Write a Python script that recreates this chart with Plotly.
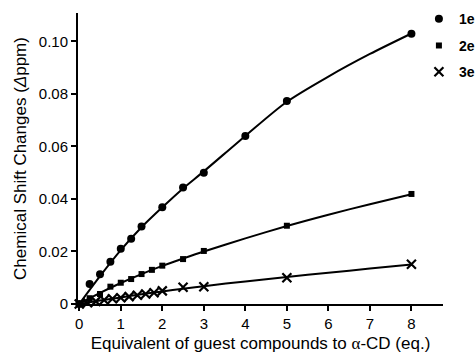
import plotly.graph_objects as go

# ---- data ----
x_1e = [0, 0.25, 0.5, 0.75, 1, 1.25, 1.5, 2, 2.5, 3, 4, 5, 8]
y_1e = [0, 0.0076, 0.0113, 0.0161, 0.0210, 0.0248, 0.0295, 0.0368, 0.0444, 0.0500, 0.0640, 0.0773, 0.1029]

x_2e = [0, 0.25, 0.5, 0.75, 1, 1.25, 1.5, 1.75, 2, 2.5, 3, 5, 8]
y_2e = [0, 0.0022, 0.0038, 0.0066, 0.0081, 0.0095, 0.0114, 0.0130, 0.0146, 0.0171, 0.0202, 0.0298, 0.0419]

x_3e = [0, 0.2, 0.4, 0.6, 0.8, 1.0, 1.2, 1.4, 1.6, 1.8, 2.0, 2.5, 3, 5, 8]
y_3e = [0, 0.0005, 0.0010, 0.0015, 0.0020, 0.0024, 0.0028, 0.0033, 0.0038, 0.0043, 0.0050, 0.0064, 0.0066, 0.0100, 0.0151]

# fitted curves
x_fit = [0, 0.5, 1, 1.5, 2, 2.5, 3, 4, 5, 6, 7, 8]
fit_1e = [0, 0.0106, 0.0205, 0.0292, 0.0368, 0.0440, 0.0505, 0.0640, 0.0770, 0.0866, 0.0952, 0.1030]
fit_2e = [0, 0.0042, 0.0080, 0.0114, 0.0145, 0.0173, 0.0200, 0.0250, 0.0297, 0.0340, 0.0380, 0.0418]
fit_3e = [0, 0.0013, 0.0025, 0.0037, 0.0048, 0.0058, 0.0068, 0.0086, 0.0103, 0.0119, 0.0135, 0.0150]

series_names = ["1e", "2e", "3e"]

y_tickvals = [0, 0.02, 0.04, 0.06, 0.08, 0.10]
y_ticktext = ["0", "0.02", "0.04", "0.06", "0.08", "0.10"]
x_tickvals = [0, 1, 2, 3, 4, 5, 6, 7, 8]

FONT = "Liberation Sans, Arial, sans-serif"

fig = go.Figure()

for xf, yf in [(x_fit, fit_1e), (x_fit, fit_2e), (x_fit, fit_3e)]:
    fig.add_trace(go.Scatter(x=xf, y=yf, mode="lines", line=dict(color="black", width=2, shape="spline", smoothing=0.8),
                             showlegend=False, hoverinfo="skip", cliponaxis=False))

fig.add_trace(go.Scatter(x=x_1e, y=y_1e, mode="markers", name=series_names[0], legend="legend",
                         marker=dict(symbol="circle", size=8, color="black"), cliponaxis=False))
fig.add_trace(go.Scatter(x=x_2e, y=y_2e, mode="markers", name=series_names[1], legend="legend2",
                         marker=dict(symbol="square", size=6, color="black"), cliponaxis=False))
fig.add_trace(go.Scatter(x=x_3e, y=y_3e, mode="markers", name=series_names[2], legend="legend3",
                         marker=dict(symbol="x-thin", size=9, color="black", line=dict(color="black", width=2.2)),
                         cliponaxis=False))

leg_common = dict(xanchor="left", yanchor="middle", x=0.934, bgcolor="rgba(0,0,0,0)",
                  font=dict(family=FONT, size=14, color="black", weight="bold"), itemwidth=30)

fig.update_layout(
    width=475, height=353,
    margin=dict(l=78, r=32, t=13, b=49, autoexpand=False),
    paper_bgcolor="white", plot_bgcolor="white",
    font=dict(family=FONT, color="black"),
    legend=dict(y=0.979, **leg_common),
    legend2=dict(y=0.887, **leg_common),
    legend3=dict(y=0.797, **leg_common),
    xaxis=dict(
        range=[-0.03, 8.76], tickvals=x_tickvals, showgrid=False, zeroline=False, automargin=False,
        showline=True, linecolor="black", linewidth=2,
        ticks="outside", ticklen=5, tickwidth=2, tickcolor="black",
        tickfont=dict(family=FONT, size=15, color="black"),
        title=dict(text='Equivalent of guest compounds to <span style="font-family:Liberation Serif">α</span>-CD (eq.)',
                   font=dict(family=FONT, size=17, color="black"), standoff=6),
    ),
    yaxis=dict(
        range=[0, 0.1108], tickvals=y_tickvals, ticktext=y_ticktext, showgrid=False, zeroline=False, automargin=False,
        showline=True, linecolor="black", linewidth=2,
        ticks="outside", ticklen=5, tickwidth=2, tickcolor="black",
        tickfont=dict(family=FONT, size=15, color="black"),
        title=dict(text="Chemical Shift Changes (<i>Δ</i>ppm)",
                   font=dict(family=FONT, size=17, color="black"), standoff=8),
    ),
)

fig.write_html("out.html", config={"displayModeBar": False},
               post_script="document.body.style.margin='0px';document.body.style.overflow='hidden';")
